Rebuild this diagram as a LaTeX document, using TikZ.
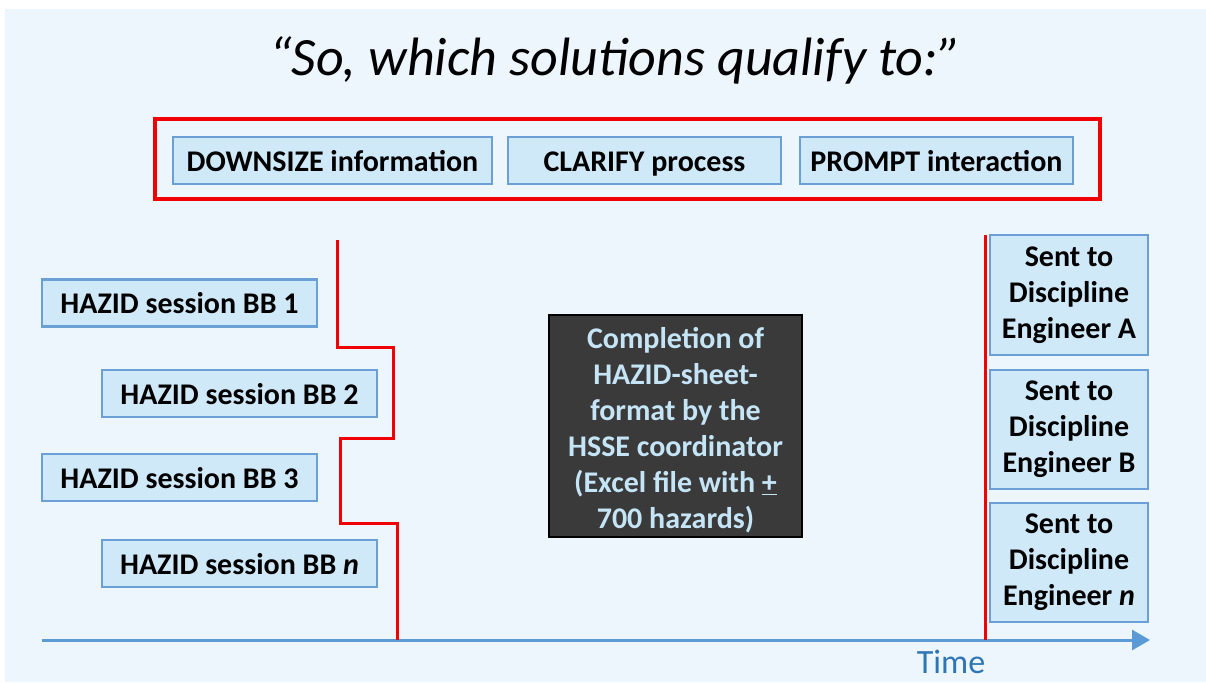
\documentclass[tikz,border=0pt]{standalone}
\usepackage{fontspec}
\setmainfont{Carlito}
\usetikzlibrary{arrows.meta}
\definecolor{bgblue}{RGB}{238,246,253}
\definecolor{boxfill}{RGB}{207,233,249}
\definecolor{boxline}{RGB}{106,160,214}
\definecolor{darkfill}{RGB}{58,58,58}
\definecolor{darktext}{RGB}{197,229,247}
\definecolor{axisblue}{RGB}{91,155,213}
\definecolor{timeblue}{RGB}{46,117,182}
\definecolor{redline}{RGB}{240,0,0}
\tikzset{
  basebox/.style={draw=boxline, line width=2.5pt, fill=boxfill, inner sep=0pt, text=black, align=center},
  lbox/.style={basebox, font=\fontsize{30}{36}\selectfont\bfseries, text height=24pt, text depth=3pt},
  sentbox/.style={basebox, minimum width=158pt, minimum height=119pt, font=\fontsize{30}{36}\selectfont\bfseries},
  redstep/.style={draw=redline, line width=3pt},
}
\begin{document}
\begin{tikzpicture}[x=1pt,y=-1pt]
\useasboundingbox (0,0) rectangle (1206,682);
\fill[white] (0,0) rectangle (1206,682);
\fill[bgblue] (5,9) rectangle (1206,682);
% title
\node[font=\fontsize{54}{60}\selectfont\itshape] (title) at (615,60) {“So, which solutions qualify to:”};
% red frame
\draw[redline, line width=3.5pt] (155,119) rectangle (1100,199);
\node[lbox, minimum width=319pt, minimum height=47pt] (down) at (332.5,160.5) {DOWNSIZE information};
\node[lbox, minimum width=273pt, minimum height=47pt] (clar) at (644.5,160.5) {CLARIFY process};
\node[lbox, minimum width=273pt, minimum height=47pt] (prompt) at (936.5,160.5) {PROMPT interaction};
% HAZID sessions
\node[lbox, minimum width=275pt, minimum height=47pt] (bb1) at (179.5,303) {HAZID session BB 1};
\node[lbox, minimum width=275pt, minimum height=47pt] (bb2) at (239.5,393.5) {HAZID session BB 2};
\node[lbox, minimum width=275pt, minimum height=47pt] (bb3) at (179.5,477.5) {HAZID session BB 3};
\node[lbox, minimum width=275pt, minimum height=47pt] (bbn) at (239.5,563.5) {HAZID session BB \textit{n}};
% axis
\coordinate (ax0) at (42,640);
\coordinate (ax1) at (1150,640);
\draw[axisblue, line width=3pt, -{Triangle[length=18pt,width=20pt]}] (ax0) -- (ax1);
\node[font=\fontsize{34}{38}\selectfont, text=timeblue] (time) at (951,662) {Time};
% red step line
\coordinate (s0) at (337,240);
\coordinate (s1) at (393,347);
\coordinate (s2) at (340,438);
\coordinate (s3) at (397,523);
\coordinate (s4) at (397,640);
\draw[redstep] (s0) |- (s1) |- (s2) |- (s3) -- (s4);
% dark box
\node[draw=black, line width=2pt, fill=darkfill, minimum width=253pt, minimum height=222pt,
  inner sep=0pt, font=\fontsize{30}{36}\selectfont\bfseries, text=darktext, align=center] (dark) at (675.5,426)
  {\rule{0pt}{30pt}Completion of\\HAZID-sheet-\\format by the\\HSSE coordinator\\(Excel file with \underline{+}\\700 hazards)};
% right red line
\coordinate (r0) at (985,235);
\coordinate (r1) at (985,640);
\draw[redstep] (r0) -- (r1);
% sent boxes
\node[sentbox, minimum height=120pt] (senta) at (1069,295) {Sent to\\Discipline\\Engineer A};
\node[sentbox] (sentb) at (1069,429.5) {Sent to\\Discipline\\Engineer B};
\node[sentbox] (sentn) at (1069,562.5) {Sent to\\Discipline\\Engineer \textit{n}};
\end{tikzpicture}
\end{document}
